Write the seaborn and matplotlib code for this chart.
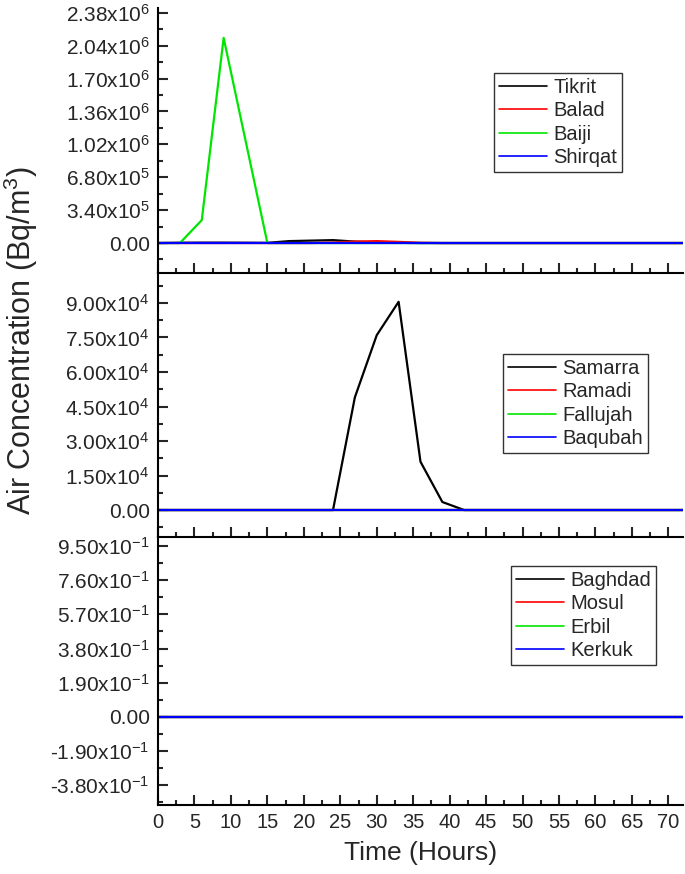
import numpy as np
import pandas as pd
import matplotlib
matplotlib.use("Agg")
import matplotlib.pyplot as plt
from matplotlib.ticker import MultipleLocator, FuncFormatter
import seaborn as sns

# ---------------- data ----------------
hours = [0, 3, 6, 9, 12, 15, 18, 21, 24, 27, 30, 33, 36, 39, 42, 45, 48, 51, 54, 57, 60, 63, 66, 69, 72]

tikrit  = [0, 3e3, 4e3, 4e3, 3e3, 2e3, 2.0e4, 2.5e4, 3.0e4, 1.5e4, 6e3, 2e3, 0, 0, 0, 0, 0, 0, 0, 0, 0, 0, 0, 0, 0]
balad   = [0, 0, 0, 0, 0, 0, 0, 0, 5e3, 1.5e4, 2.0e4, 1.2e4, 3e3, 0, 0, 0, 0, 0, 0, 0, 0, 0, 0, 0, 0]
baiji   = [0, 0, 2.37e5, 2.12e6, 1.06e6, 0, 0, 0, 0, 0, 0, 0, 0, 0, 0, 0, 0, 0, 0, 0, 0, 0, 0, 0, 0]
shirqat = [0] * 25

samarra = [0, 0, 0, 0, 0, 0, 0, 0, 0, 4.9e4, 7.6e4, 9.05e4, 2.1e4, 3.5e3, 0, 0, 0, 0, 0, 0, 0, 0, 0, 0, 0]
ramadi  = [0] * 25
fallujah = [0] * 25
baqubah = [0] * 25

baghdad = [0] * 25
mosul   = [0] * 25
erbil   = [0] * 25
kerkuk  = [0] * 25

panel1_names = ["Tikrit", "Balad", "Baiji", "Shirqat"]
panel2_names = ["Samarra", "Ramadi", "Fallujah", "Baqubah"]
panel3_names = ["Baghdad", "Mosul", "Erbil", "Kerkuk"]

panel1_vals = [tikrit, balad, baiji, shirqat]
panel2_vals = [samarra, ramadi, fallujah, baqubah]
panel3_vals = [baghdad, mosul, erbil, kerkuk]

colors = ["#000000", "#ff0000", "#00e600", "#0000ff"]

# ---------------- style ----------------
sns.set_style("white")
plt.rcParams["font.family"] = ["Liberation Sans", "DejaVu Sans"]
plt.rcParams["mathtext.fontset"] = "custom"
plt.rcParams["mathtext.rm"] = "Liberation Sans"
plt.rcParams["mathtext.it"] = "Liberation Sans"
plt.rcParams["mathtext.default"] = "regular"


def sci_fmt():
    def f(v, pos):
        if abs(v) < 1e-12:
            return "0.00"
        exp = int(np.floor(np.log10(abs(v)) + 1e-9))
        mant = v / 10 ** exp
        return r"%.2fx10$^{%d}$" % (mant, exp)
    return FuncFormatter(f)


fig = plt.figure(figsize=(6.85, 8.74), dpi=100)
left, right = 0.2307, 0.997
bounds = [(0.6876, 0.991), (0.3856, 0.6876), (0.0789, 0.3856)]
axes = [fig.add_axes([left, b, right - left, t - b]) for b, t in bounds]

panels = [
    (panel1_names, panel1_vals, (-3.1e5, 2.43e6), 3.4e5, (494, 73)),
    (panel2_names, panel2_vals, (-1.17e4, 1.03e5), 1.5e4, (503, 354)),
    (panel3_names, panel3_vals, (-0.49, 1.0), 0.19, (511, 566)),
]

for i, (ax, (names, vals, ylim, step, legpos)) in enumerate(zip(axes, panels)):
    df = pd.DataFrame({
        "Time": np.tile(hours, len(names)),
        "Value": np.concatenate([np.asarray(v, dtype=float) for v in vals]),
        "Site": np.repeat(names, len(hours)),
    })
    sns.lineplot(data=df, x="Time", y="Value", hue="Site", hue_order=names,
                 palette=colors, linewidth=1.6, ax=ax, legend=True)
    ax.set_xlim(0, 72)
    ax.set_ylim(*ylim)
    ax.yaxis.set_major_locator(MultipleLocator(step))
    ax.yaxis.set_minor_locator(MultipleLocator(step / 2))
    ax.yaxis.set_major_formatter(sci_fmt())
    ax.xaxis.set_major_locator(MultipleLocator(5))
    ax.xaxis.set_minor_locator(MultipleLocator(2.5))
    ax.tick_params(axis="both", which="major", direction="in", length=7, width=1.5,
                   labelsize=15, pad=6)
    ax.tick_params(axis="x", which="major", labelsize=14.5)
    ax.tick_params(axis="both", which="minor", direction="in", length=3.5, width=1.5)
    ax.tick_params(axis="y", which="both", left=True)
    ax.tick_params(axis="x", which="both", bottom=True)
    for s in ["top", "right"]:
        ax.spines[s].set_visible(False)
    for s in ["left", "bottom"]:
        ax.spines[s].set_linewidth(1.5)
        ax.spines[s].set_color("black")
    ax.set_xlabel("")
    ax.set_ylabel("")
    if i < 2:
        ax.tick_params(axis="x", labelbottom=False)
    else:
        ax.set_xlabel("Time (Hours)", fontsize=19, labelpad=6)
    ax.patch.set_alpha(0)
    handles, labels = ax.get_legend_handles_labels()
    lx = legpos[0] / 685
    ly = 1 - legpos[1] / 874
    leg = ax.legend(handles, labels, loc="upper left", bbox_to_anchor=(lx, ly),
                    bbox_transform=fig.transFigure, fontsize=14.5, frameon=True,
                    fancybox=False, edgecolor="#333333", framealpha=1,
                    handlelength=2.4, handletextpad=0.3, labelspacing=0.22,
                    borderpad=0.25, borderaxespad=0)
    leg.get_frame().set_linewidth(1.0)
    for lh in leg.get_lines():
        lh.set_linewidth(1.2)

fig.text(0.03, 1 - 341 / 874, "Air Concentration (Bq/m$^{3}$)", rotation=90, va="center",
         ha="center", fontsize=22)

fig.savefig("out.png", dpi=100)
